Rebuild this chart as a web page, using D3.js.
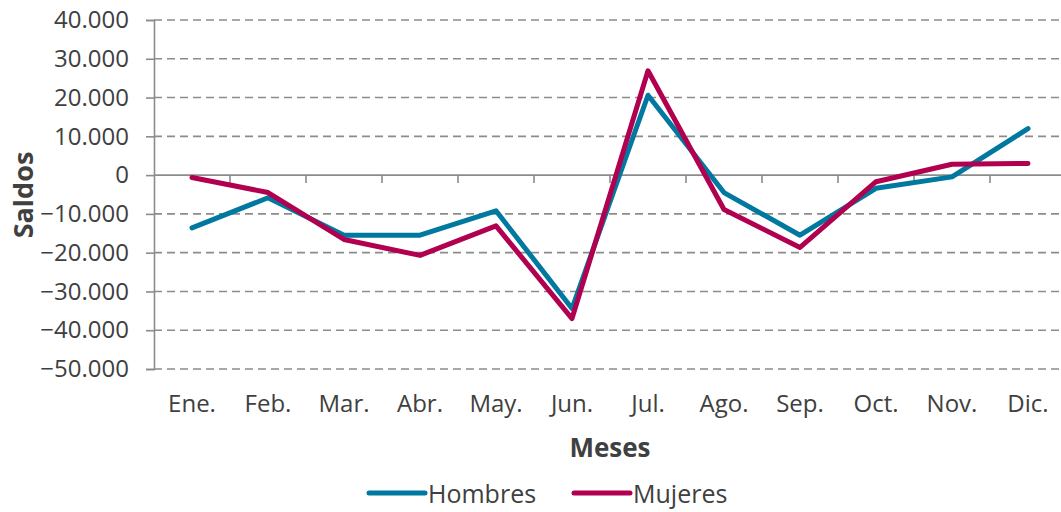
<!DOCTYPE html>
<html>
<head>
<meta charset="utf-8">
<script src="https://cdn.jsdelivr.net/npm/d3@7"></script>
<style>
    body { margin: 0; background: #fff; }
    text { font-family: "Open Sans", sans-serif; fill: #404040; }
</style>
</head>
<body>
<svg id="chart"></svg>
<script>
'use strict';

const months = ["Ene.", "Feb.", "Mar.", "Abr.", "May.", "Jun.", "Jul.", "Ago.", "Sep.", "Oct.", "Nov.", "Dic."];
const hombres = [-13600, -5850, -15500, -15500, -9200, -34400, 20600, -4500, -15500, -3400, -450, 12000];
const mujeres = [-600, -4500, -16600, -20700, -13100, -37000, 26900, -8850, -18650, -1700, 2800, 3000];
const yTicks = [40000, 30000, 20000, 10000, 0, -10000, -20000, -30000, -40000, -50000];
const seriesNames = ["Hombres", "Mujeres"];
const seriesColors = ["#00789f", "#b0004f"];

const width = 1061;
const height = 512;
const margin = {top: 20, right: -5, bottom: 143, left: 154};

var svg = d3.select("#chart")
    .attr("width", width)
    .attr("height", height);

var x = d3.scaleBand()
    .domain(months)
    .range([margin.left, width - margin.right]);

var y = d3.scaleLinear()
    .domain([-50000, 40000])
    .range([height - margin.bottom, margin.top]);

function fmt(v) {
    // spanish thousands separator
    return d3.format(",")(v).replace(/,/g, ".");
}

// horizontal dashed grid
svg.append("g")
    .selectAll("line")
    .data(yTicks.filter(function (d) { return d !== 0; }))
    .enter()
    .append("line")
    .attr("x1", margin.left)
    .attr("x2", width)
    .attr("y1", function (d) { return y(d); })
    .attr("y2", function (d) { return y(d); })
    .attr("stroke", "#8c8c8c")
    .attr("stroke-width", 1.6)
    .attr("stroke-dasharray", "8,5");

// y axis
var yAxis = svg.append("g")
    .attr("transform", "translate(" + margin.left + ",0)")
    .call(d3.axisLeft(y).tickValues(yTicks).tickSize(8).tickPadding(17).tickFormat(fmt));
yAxis.selectAll("line, path").attr("stroke", "#8c8c8c").attr("stroke-width", 1.6);
yAxis.selectAll("text").attr("font-size", 24).attr("fill", "#404040")
    .style("font-family", "'Open Sans', sans-serif");

// x axis on the zero line, ticks between categories
var xAxis = svg.append("g")
    .attr("transform", "translate(0," + y(0) + ")");
xAxis.append("line")
    .attr("x1", margin.left)
    .attr("x2", width)
    .attr("stroke", "#8c8c8c")
    .attr("stroke-width", 1.6);
xAxis.selectAll(".tick")
    .data(months.slice(1))
    .enter()
    .append("line")
    .attr("x1", function (d) { return x(d); })
    .attr("x2", function (d) { return x(d); })
    .attr("y1", 0)
    .attr("y2", 8)
    .attr("stroke", "#8c8c8c")
    .attr("stroke-width", 1.6);

// month labels under the plot
svg.append("g")
    .selectAll("text")
    .data(months)
    .enter()
    .append("text")
    .attr("x", function (d) { return x(d) + x.bandwidth() / 2; })
    .attr("y", 412)
    .attr("text-anchor", "middle")
    .attr("font-size", 24)
    .text(function (d) { return d; });

// lines
var line = d3.line()
    .x(function (d, i) { return x(months[i]) + x.bandwidth() / 2; })
    .y(function (d) { return y(d); });

[hombres, mujeres].forEach(function (values, i) {
    svg.append("path")
        .datum(values)
        .attr("d", line)
        .attr("fill", "none")
        .attr("stroke", seriesColors[i])
        .attr("stroke-width", 5)
        .attr("stroke-linejoin", "round")
        .attr("stroke-linecap", "round");
});

// axis titles
svg.append("text")
    .attr("transform", "translate(33,195) rotate(-90)")
    .attr("text-anchor", "middle")
    .attr("font-size", 27)
    .attr("font-weight", "bold")
    .text("Saldos");

svg.append("text")
    .attr("x", 610)
    .attr("y", 457)
    .attr("text-anchor", "middle")
    .attr("font-size", 26)
    .attr("font-weight", "bold")
    .text("Meses");

// legend
var legendX = [369, 574];
seriesNames.forEach(function (name, i) {
    var g = svg.append("g").attr("transform", "translate(" + legendX[i] + ",493)");
    g.append("line")
        .attr("x1", 0)
        .attr("x2", 56)
        .attr("stroke", seriesColors[i])
        .attr("stroke-width", 5)
        .attr("stroke-linecap", "round");
    g.append("text")
        .attr("x", 59)
        .attr("y", 10)
        .attr("font-size", 25)
        .text(name);
});
</script>
</body>
</html>
